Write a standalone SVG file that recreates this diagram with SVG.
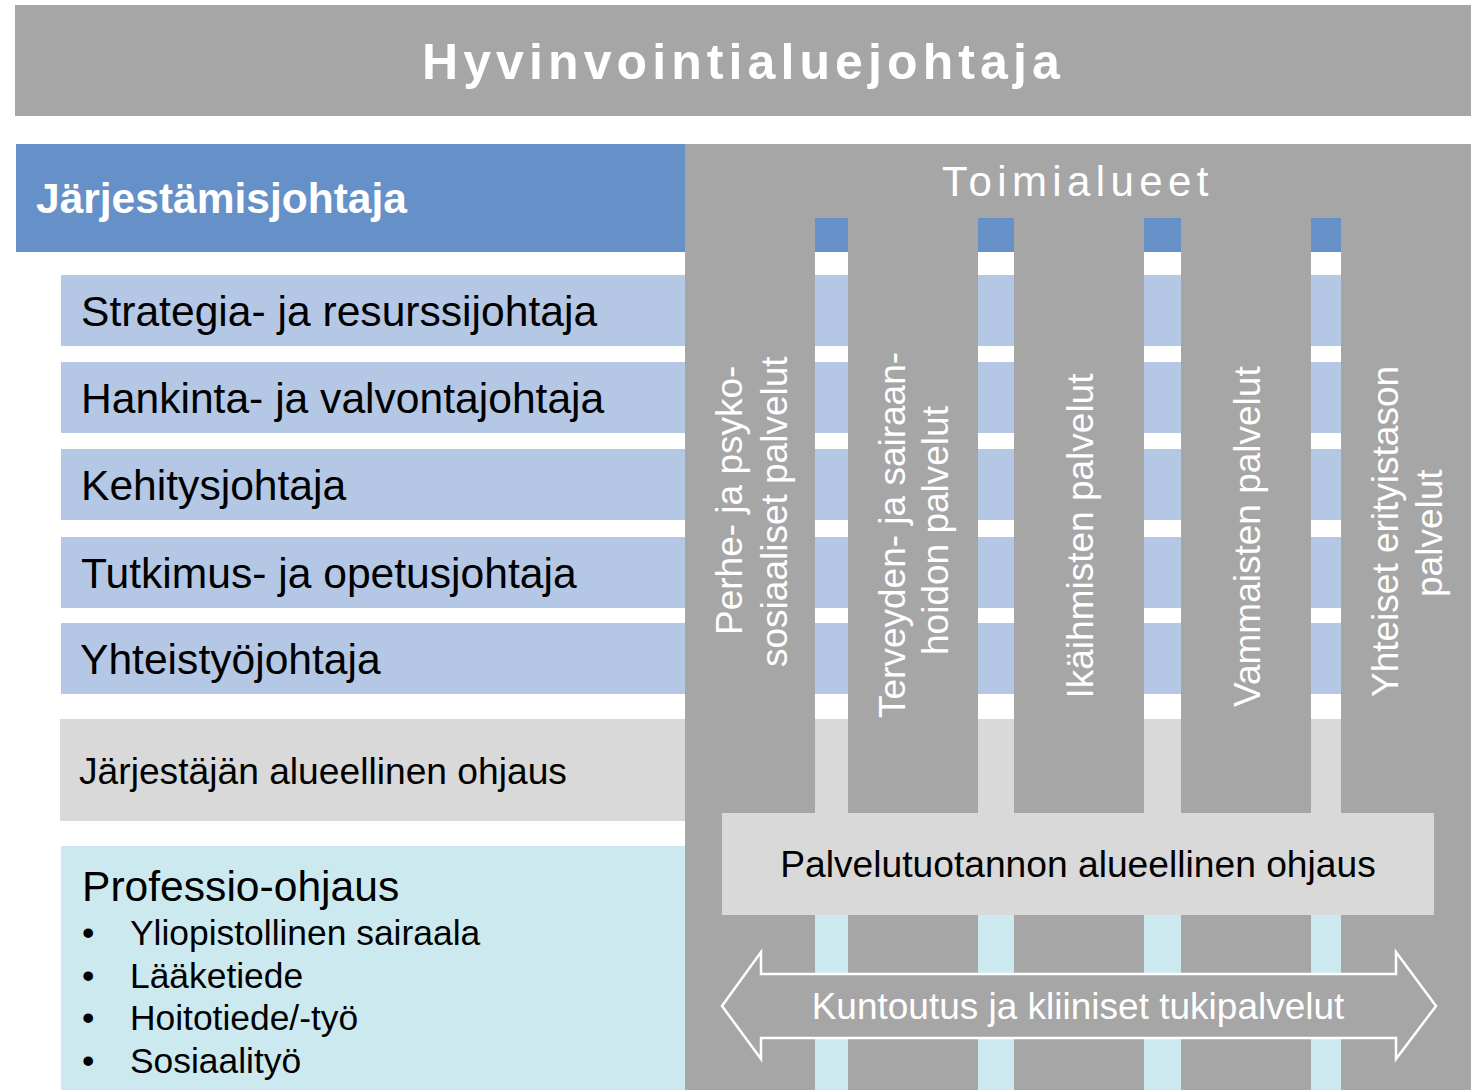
<svg xmlns="http://www.w3.org/2000/svg" width="1476" height="1090" viewBox="0 0 1476 1090">
<style>
.gray{fill:#a6a6a6}
.dblue{fill:#6691c8}
.lblue{fill:#b4c7e4}
.lgray{fill:#d9d9d9}
.cyan{fill:#cce9ef}
.t{font-family:"Liberation Sans",Arial,sans-serif}
.row{font-size:42.6px;fill:#000}
.mid{font-size:37.2px;fill:#000}
.wt{fill:#fff}
.col{font-size:37px;fill:#fff}
.bul{font-size:35.4px;fill:#000}
</style>
<rect width="1476" height="1090" fill="#fff"/>
<g id="hyvinvointialuejohtaja">
<rect class="gray" x="15" y="5" width="1456" height="111"/>
<text class="t wt" x="422" y="79" font-size="50" font-weight="bold" letter-spacing="5.1">Hyvinvointialuejohtaja</text>
</g>
<g id="toimialueet-panel">
<rect class="gray" x="685" y="144" width="786" height="946"/>
<rect x="685" y="218" width="786" height="872" fill="#fff"/>
</g>
<g id="jarjestamisjohtaja">
<rect class="dblue" x="16" y="144" width="669" height="108"/>
<rect class="dblue" x="685" y="218" width="786" height="34"/>
<text class="t wt" x="36" y="213" font-size="42.5" font-weight="bold">Järjestämisjohtaja</text>
</g>
<g id="strategia">
<rect class="lblue" x="61" y="275" width="1410" height="71"/>
<text class="t row" x="81" y="326">Strategia- ja resurssijohtaja</text>
</g>
<g id="hankinta">
<rect class="lblue" x="61" y="362" width="1410" height="71"/>
<text class="t row" x="81" y="413">Hankinta- ja valvontajohtaja</text>
</g>
<g id="kehitys">
<rect class="lblue" x="61" y="449" width="1410" height="71"/>
<text class="t row" x="81" y="500">Kehitysjohtaja</text>
</g>
<g id="tutkimus">
<rect class="lblue" x="61" y="537" width="1410" height="71"/>
<text class="t row" x="81" y="588">Tutkimus- ja opetusjohtaja</text>
</g>
<g id="yhteistyo">
<rect class="lblue" x="61" y="623" width="1410" height="71"/>
<text class="t row" x="80" y="674">Yhteistyöjohtaja</text>
</g>
<g id="jarjestajan-ohjaus">
<rect class="lgray" x="60" y="719" width="1411" height="102"/>
<text class="t mid" x="79" y="784">Järjestäjän alueellinen ohjaus</text>
</g>
<g id="professio-ohjaus">
<rect class="cyan" x="61" y="846" width="1410" height="244"/>
<text class="t row" x="82" y="901">Professio-ohjaus</text>
<text class="t bul" x="82" y="945">•</text><text class="t bul" x="130" y="945">Yliopistollinen sairaala</text>
<text class="t bul" x="82" y="988">•</text><text class="t bul" x="130" y="988">Lääketiede</text>
<text class="t bul" x="82" y="1030">•</text><text class="t bul" x="130" y="1030">Hoitotiede/-työ</text>
<text class="t bul" x="82" y="1073">•</text><text class="t bul" x="130" y="1073">Sosiaalityö</text>
</g>
<g id="toimialue-perhe">
<rect class="gray" x="685" y="144" width="130" height="946"/>
<text class="t col" x="742" y="635" transform="rotate(-90 742 635)">Perhe- ja psyko-</text>
<text class="t col" x="787" y="667" transform="rotate(-90 787 667)">sosiaaliset palvelut</text>
</g>
<g id="toimialue-terveys">
<rect class="gray" x="848" y="144" width="130" height="946"/>
<text class="t col" x="905" y="718" transform="rotate(-90 905 718)">Terveyden- ja sairaan-</text>
<text class="t col" x="948" y="655" transform="rotate(-90 948 655)">hoidon palvelut</text>
</g>
<g id="toimialue-ikaihmiset">
<rect class="gray" x="1014" y="144" width="130" height="946"/>
<text class="t col" x="1093" y="536" text-anchor="middle" transform="rotate(-90 1093 536)">Ikäihmisten palvelut</text>
</g>
<g id="toimialue-vammaiset">
<rect class="gray" x="1181" y="144" width="130" height="946"/>
<text class="t col" x="1260" y="707" transform="rotate(-90 1260 707)">Vammaisten palvelut</text>
</g>
<g id="toimialue-yhteiset">
<rect class="gray" x="1341" y="144" width="130" height="946"/>
<text class="t col" x="1398" y="697" transform="rotate(-90 1398 697)">Yhteiset erityistason</text>
<text class="t col" x="1442" y="597" transform="rotate(-90 1442 597)">palvelut</text>
</g>
<g id="toimialueet-title">
<text class="t wt" x="942" y="196" font-size="42" letter-spacing="5.4">Toimialueet</text>
</g>
<g id="palvelutuotannon-ohjaus">
<rect class="lgray" x="722" y="813" width="712" height="102"/>
<text class="t mid" x="1078" y="877" text-anchor="middle">Palvelutuotannon alueellinen ohjaus</text>
</g>
<g id="connectors">
<g id="kuntoutus">
<path d="M722,1006 L761,952 L761,974 L1396,974 L1396,952 L1436,1006 L1396,1059 L1396,1038 L761,1038 L761,1059 Z" fill="#a6a6a6" stroke="#fff" stroke-width="2.5"/>
<text class="t col" x="1078" y="1019" text-anchor="middle">Kuntoutus ja kliiniset tukipalvelut</text>
</g>
</g>
</svg>
